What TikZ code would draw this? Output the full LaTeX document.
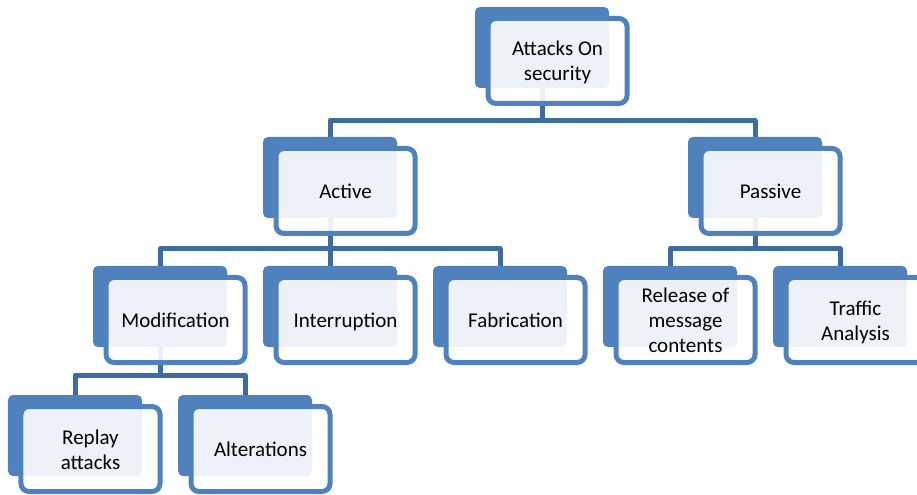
\documentclass[tikz,border=0pt]{standalone}
\usepackage{fontspec}
\setmainfont{Carlito}
\definecolor{accent}{HTML}{4F81BD}
\definecolor{linkblue}{HTML}{3E6BA0}
\tikzset{
  backbox/.style={fill=accent, rounded corners=5bp, minimum width=134bp,
    minimum height=81bp, inner sep=0pt, draw=none},
  frontbox/.style={draw=accent, line width=5bp, fill=white, fill opacity=0.9,
    rounded corners=8bp, minimum width=139bp, minimum height=85bp, inner sep=0pt},
  labeltext/.style={inner sep=0pt, align=center, text=black,
    font=\fontsize{21bp}{25bp}\selectfont},
  conn/.style={draw=linkblue, line width=5bp, line join=round}
}
% back block centred at (x,y); the framed front block sits below-right of it
\newcommand{\unitbox}[4]{%
  \node[backbox] (#1) at (#2,#3) {};
  \node[frontbox] (#1-f) at (#2+15.5,#3+13.5) {};
  \node[labeltext] (#1-t) at ([yshift=-2.5bp]#1-f.center) {\strut#4\strut};
}
\begin{document}
\begin{tikzpicture}[x=1bp, y=-1bp]
  \useasboundingbox (0,0) rectangle (917,495);
  % junction points of the tree
  \coordinate (j0) at (542,120.5);
  \coordinate (j1) at (330,249);
  \coordinate (j2) at (755,249);
  \coordinate (j3) at (160,375);
  % block anchors used by the connectors
  \path (542,47.5) coordinate (p-att)
        (330,177.5) coordinate (p-act)
        (755,177.5) coordinate (p-pas)
        (160,306.5) coordinate (p-mod)
        (330,306.5) coordinate (p-int)
        (500,306.5) coordinate (p-fab)
        (670,306.5) coordinate (p-rel)
        (840,306.5) coordinate (p-tra)
        (75,435.5)  coordinate (p-rep)
        (245,435.5) coordinate (p-alt);
  % connectors go first so the framed blocks sit on top of them
  \draw[conn] (p-att) -- (j0);
  \draw[conn] (p-act) |- (j0) -| (p-pas);
  \draw[conn] (p-act) -- (j1);
  \draw[conn] (p-mod) |- (j1) -| (p-fab);
  \draw[conn] (j1) -- (p-int);
  \draw[conn] (p-pas) -- (j2);
  \draw[conn] (p-rel) |- (j2) -| (p-tra);
  \draw[conn] (p-mod) -- (j3);
  \draw[conn] (p-rep) |- (j3) -| (p-alt);
  % blocks
  \unitbox{att}{542}{47.5}{Attacks On\\security}
  \unitbox{act}{330}{177.5}{Active}
  \unitbox{pas}{755}{177.5}{Passive}
  \unitbox{mod}{160}{306.5}{Modification}
  \unitbox{int}{330}{306.5}{Interruption}
  \unitbox{fab}{500}{306.5}{Fabrication}
  \unitbox{rel}{670}{306.5}{Release of\\message\\contents}
  \unitbox{tra}{840}{306.5}{Traffic\\Analysis}
  \unitbox{rep}{75}{435.5}{Replay\\attacks}
  \unitbox{alt}{245}{435.5}{Alterations}
\end{tikzpicture}
\end{document}
